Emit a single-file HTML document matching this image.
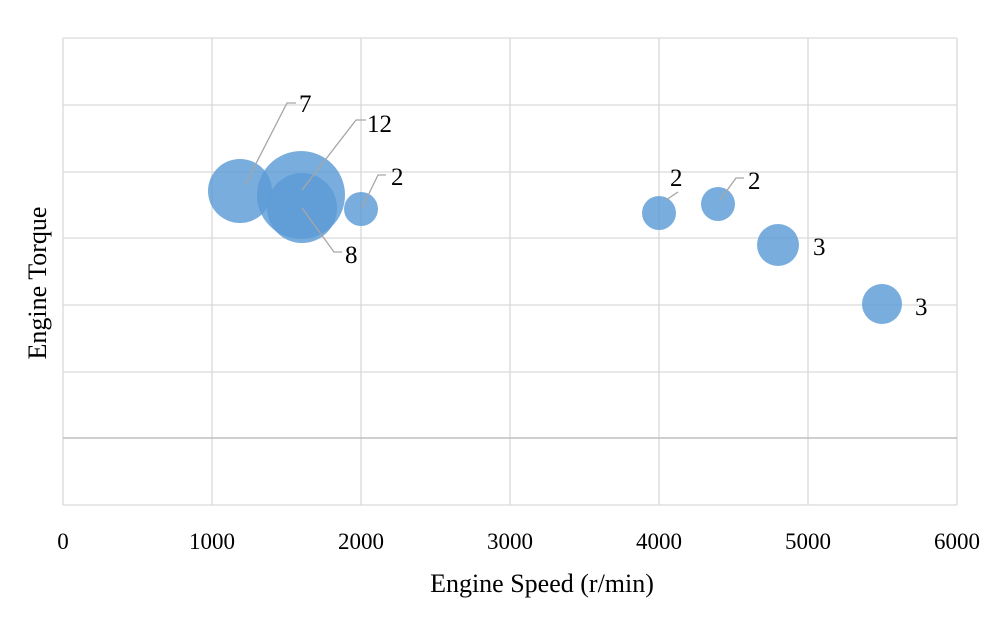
<!DOCTYPE html>
<html><head><meta charset="utf-8"><style>body{margin:0;background:#fff}</style></head><body>
<svg width="1000" height="626" xmlns="http://www.w3.org/2000/svg" font-family="Liberation Serif, serif" font-size="23">
<rect width="1000" height="626" fill="#fff"/>
<g stroke="#d9d9d9" stroke-width="1.3" fill="none">
<line x1="63" y1="38" x2="957" y2="38"/><line x1="63" y1="105" x2="957" y2="105"/><line x1="63" y1="172" x2="957" y2="172"/><line x1="63" y1="238" x2="957" y2="238"/><line x1="63" y1="305" x2="957" y2="305"/><line x1="63" y1="372" x2="957" y2="372"/><line x1="63" y1="505" x2="957" y2="505"/>
<line x1="63" y1="38" x2="63" y2="505"/><line x1="212" y1="38" x2="212" y2="505"/><line x1="361" y1="38" x2="361" y2="505"/><line x1="510" y1="38" x2="510" y2="505"/><line x1="659" y1="38" x2="659" y2="505"/><line x1="808" y1="38" x2="808" y2="505"/><line x1="957" y1="38" x2="957" y2="505"/>
</g>
<line x1="63" y1="438" x2="957" y2="438" stroke="#bfbfbf" stroke-width="1.5"/>
<g fill="#5b9bd5" fill-opacity="0.82">
<circle cx="240" cy="191" r="32"/>
<circle cx="301" cy="195" r="44"/>
<circle cx="302" cy="208" r="35"/>
<circle cx="361" cy="209" r="17"/>
<circle cx="659" cy="213" r="17"/>
<circle cx="718" cy="204" r="17"/>
<circle cx="778" cy="245" r="21"/>
<circle cx="882" cy="304" r="20"/>
</g>
<g stroke="#a6a6a6" stroke-width="1.3" fill="none">
<polyline points="245,185 287,103 296,103"/>
<polyline points="302,190 356,120 366,120"/>
<polyline points="302,208 334,252 342,252"/>
<polyline points="362,208 378,175 386,175"/>
<polyline points="666,200 678,192"/>
<polyline points="720,200 736,178 744,178"/>
</g>
<g fill="#000" font-size="25">
<text x="299" y="112">7</text>
<text x="367" y="132">12</text>
<text x="345" y="263">8</text>
<text x="391" y="185">2</text>
<text x="670" y="186">2</text>
<text x="748" y="189">2</text>
<text x="813" y="255">3</text>
<text x="915" y="315">3</text>
</g>
<g text-anchor="middle" fill="#000">
<text x="63" y="549">0</text><text x="212" y="549">1000</text><text x="361" y="549">2000</text><text x="510" y="549">3000</text><text x="659" y="549">4000</text><text x="808" y="549">5000</text><text x="957" y="549">6000</text>
<text x="542" y="592" font-size="26">Engine Speed (r/min)</text>
<text transform="translate(46,283) rotate(-90)" font-size="26">Engine Torque</text>
</g>
</svg>
</body></html>
